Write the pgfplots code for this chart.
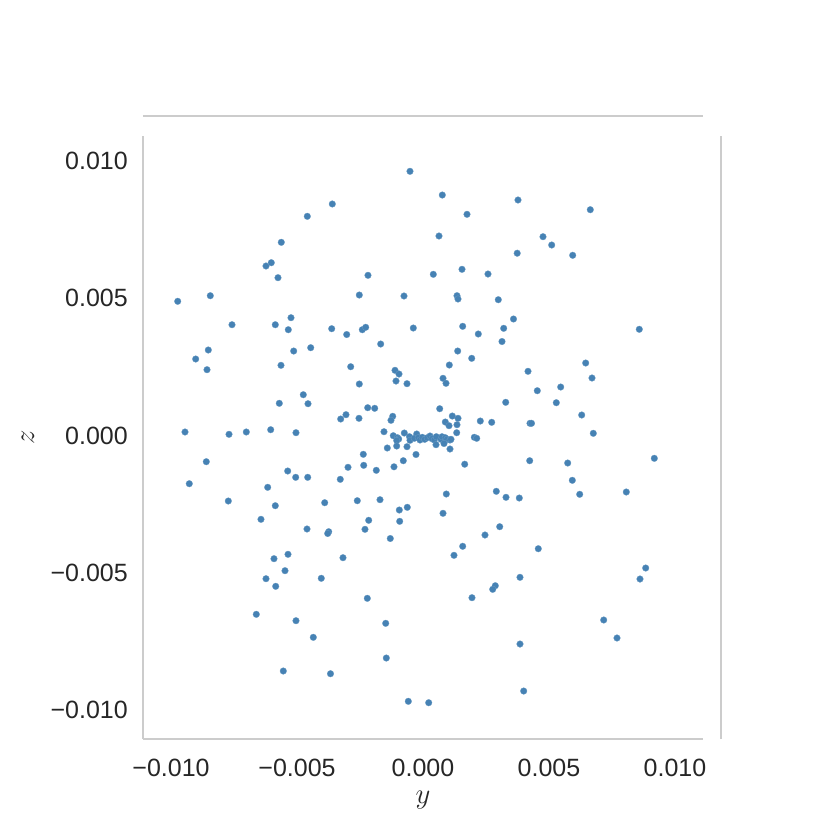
\documentclass[border=0pt]{standalone}
\usepackage{pgfplots}
\pgfplotsset{compat=1.18}
\usepackage{fontspec}
\setmainfont{Liberation Sans}
\definecolor{steel}{HTML}{4682B4}
\definecolor{spine}{HTML}{CCCCCC}
\definecolor{txt}{HTML}{262626}
\begin{document}
\begin{tikzpicture}
\path[use as bounding box] (-102.96pt,-65.52pt) rectangle (494.64pt,532.08pt);
\begin{axis}[
  at={(0pt,0pt)}, anchor=south west,
  scale only axis, width=403.2pt, height=434.16pt,
  xmin=-0.011111, xmax=0.011111, ymin=-0.011056, ymax=0.010911,
  axis x line*=bottom, axis y line*=left,
  axis line style={-, draw=spine, line width=1.875pt},
  major tick length=0pt,
  scaled ticks=false,
  xtick={-0.01,-0.005,0,0.005,0.01},
  ytick={-0.01,-0.005,0,0.005,0.01},
  xticklabels={−0.010,−0.005,0.000,0.005,0.010},
  yticklabels={−0.010,−0.005,0.000,0.005,0.010},
  tick label style={font=\fontsize{18}{20}\selectfont, text=txt},
  xticklabel style={anchor=north, inner sep=0pt, yshift=-14.5pt},
  yticklabel style={anchor=east, inner sep=0pt, xshift=-10.8pt},
  xlabel={$y$}, ylabel={$z$},
  label style={font=\fontsize{20}{22}\selectfont, text=txt},
  xlabel style={at={(axis description cs:0.5,0)}, anchor=center, inner sep=0pt, yshift=-44pt},
  ylabel style={at={(axis description cs:-0.2054,0.5)}, anchor=center, inner sep=0pt, rotate=0},
  clip=false,
]
\addplot[only marks, mark=*, mark size=2.4pt, mark options={fill=steel, draw=steel!80!white, line width=0.2pt}] coordinates {
(-0.516e-3,9.625e-3) (0.766e-3,8.761e-3) (3.770e-3,8.579e-3) (-3.599e-3,8.434e-3)
(6.639e-3,8.226e-3) (1.746e-3,8.058e-3) (-4.591e-3,7.985e-3) (0.635e-3,7.268e-3)
(4.762e-3,7.242e-3) (5.107e-3,6.940e-3) (-5.623e-3,7.038e-3) (5.940e-3,6.565e-3)
(3.738e-3,6.641e-3) (-6.020e-3,6.295e-3) (-6.230e-3,6.175e-3) (-5.754e-3,5.749e-3)
(-2.183e-3,5.836e-3) (0.409e-3,5.872e-3) (1.548e-3,6.055e-3) (2.579e-3,5.883e-3)
(-9.734e-3,4.889e-3) (-8.440e-3,5.093e-3) (-2.528e-3,5.118e-3) (-0.754e-3,5.082e-3)
(1.349e-3,5.093e-3) (1.389e-3,4.973e-3) (2.988e-3,4.947e-3) (-7.579e-3,4.036e-3)
(-5.861e-3,4.036e-3) (-5.238e-3,4.291e-3) (-5.345e-3,3.854e-3) (-3.623e-3,3.891e-3)
(-3.028e-3,3.679e-3) (-2.409e-3,3.854e-3) (-2.274e-3,3.942e-3) (-0.385e-3,3.916e-3)
(1.575e-3,3.978e-3) (2.194e-3,3.698e-3) (3.202e-3,3.905e-3) (3.591e-3,4.244e-3)
(3.135e-3,3.424e-3) (8.583e-3,3.869e-3)
(-8.520e-3,3.115e-3) (-9.020e-3,2.787e-3) (-8.571e-3,2.397e-3) (-5.131e-3,3.078e-3)
(-4.456e-3,3.199e-3) (-5.635e-3,2.557e-3) (-4.750e-3,1.486e-3) (-5.702e-3,1.173e-3)
(-4.563e-3,1.158e-3) (-9.444e-3,0.128e-3) (-7.698e-3,0.044e-3) (-7.012e-3,0.128e-3)
(-6.044e-3,0.211e-3) (-5.040e-3,0.102e-3) (-8.599e-3,-0.954e-3) (-9.274e-3,-1.756e-3)
(-5.369e-3,-1.293e-3) (-5.052e-3,-1.523e-3) (-4.575e-3,-1.523e-3) (-6.163e-3,-1.887e-3)
(-7.726e-3,-2.386e-3) (-5.861e-3,-2.557e-3) (-3.901e-3,-2.448e-3) (-6.429e-3,-3.053e-3)
(-4.603e-3,-3.406e-3) (-3.742e-3,-3.505e-3) (-3.782e-3,-3.570e-3)
(-1.679e-3,3.333e-3) (1.377e-3,3.078e-3) (1.933e-3,2.812e-3) (-2.869e-3,2.506e-3)
(1.044e-3,2.568e-3) (-1.111e-3,2.375e-3) (-0.952e-3,2.240e-3) (-1.071e-3,1.985e-3)
(-0.635e-3,1.887e-3) (-2.528e-3,1.876e-3) (0.794e-3,2.084e-3) (0.913e-3,1.902e-3)
(3.282e-3,1.209e-3) (-2.194e-3,1.013e-3) (-1.917e-3,0.991e-3) (0.663e-3,0.976e-3)
(-3.056e-3,0.758e-3) (-3.266e-3,0.601e-3) (-2.540e-3,0.627e-3) (-1.202e-3,0.699e-3)
(-1.270e-3,0.554e-3) (1.163e-3,0.710e-3) (1.389e-3,0.627e-3) (2.274e-3,0.528e-3)
(2.726e-3,0.481e-3) (0.885e-3,0.492e-3) (1.032e-3,0.357e-3) (1.349e-3,0.393e-3)
(-1.548e-3,0.138e-3) (1.337e-3,0.102e-3) (2.036e-3,-0.066e-3) (2.131e-3,-0.102e-3)
(-1.179e-3,-0.007e-3) (-1.012e-3,-0.080e-3) (-0.964e-3,-0.128e-3) (-1.044e-3,-0.182e-3)
(-0.742e-3,0.091e-3) (-0.536e-3,-0.044e-3) (-0.516e-3,-0.175e-3) (-0.250e-3,0.055e-3)
(-0.345e-3,-0.102e-3) (-0.187e-3,-0.080e-3) (-0.119e-3,-0.164e-3) (-0.028e-3,-0.066e-3)
(0.067e-3,-0.138e-3) (0.171e-3,-0.080e-3) (0.278e-3,-0.018e-3) (0.357e-3,-0.117e-3)
(0.448e-3,-0.164e-3) (0.528e-3,-0.044e-3) (0.714e-3,-0.138e-3) (0.754e-3,-0.044e-3)
(0.885e-3,-0.080e-3) (0.952e-3,-0.138e-3) (1.071e-3,-0.164e-3) (1.111e-3,-0.138e-3)
(0.516e-3,-0.335e-3) (0.833e-3,-0.291e-3) (1.071e-3,-0.492e-3) (-1.417e-3,-0.455e-3)
(-1.044e-3,-0.383e-3) (-0.635e-3,-0.408e-3) (-0.278e-3,-0.692e-3) (-2.369e-3,-0.685e-3)
(-2.976e-3,-1.158e-3) (-2.353e-3,-1.086e-3) (-1.853e-3,-1.268e-3) (-1.151e-3,-1.140e-3)
(-0.782e-3,-0.918e-3) (1.655e-3,-1.046e-3) (-3.282e-3,-1.596e-3) (-2.607e-3,-2.375e-3)
(-1.706e-3,-2.339e-3) (0.925e-3,-2.131e-3) (2.909e-3,-2.033e-3) (3.294e-3,-2.251e-3)
(3.821e-3,-2.277e-3) (-0.940e-3,-2.714e-3) (-0.623e-3,-2.616e-3) (-2.155e-3,-3.089e-3)
(-2.302e-3,-3.417e-3) (-0.925e-3,-3.126e-3) (0.794e-3,-2.834e-3) (3.044e-3,-3.322e-3)
(2.460e-3,-3.625e-3) (-1.298e-3,-3.752e-3)
(6.456e-3,2.641e-3) (4.167e-3,2.339e-3) (6.706e-3,2.095e-3) (5.464e-3,1.767e-3)
(4.536e-3,1.632e-3) (5.290e-3,1.195e-3) (6.298e-3,0.747e-3) (4.246e-3,0.444e-3)
(4.306e-3,0.444e-3) (6.758e-3,0.080e-3) (4.234e-3,-0.918e-3) (5.742e-3,-1.002e-3)
(9.179e-3,-0.831e-3) (5.925e-3,-1.632e-3) (6.218e-3,-2.142e-3) (8.067e-3,-2.058e-3)
(-5.357e-3,-4.328e-3) (-5.913e-3,-4.488e-3) (-5.476e-3,-4.925e-3) (-6.230e-3,-5.217e-3)
(-4.036e-3,-5.202e-3) (-5.845e-3,-5.494e-3) (-6.615e-3,-6.514e-3) (-5.040e-3,-6.747e-3)
(-4.353e-3,-7.352e-3) (-5.544e-3,-8.579e-3) (-3.671e-3,-8.678e-3)
(1.575e-3,-4.036e-3) (1.230e-3,-4.364e-3) (-3.175e-3,-4.452e-3) (-2.210e-3,-5.931e-3)
(-1.480e-3,-6.842e-3) (1.944e-3,-5.909e-3) (2.869e-3,-5.472e-3) (2.766e-3,-5.603e-3)
(3.849e-3,-5.166e-3) (3.849e-3,-7.596e-3) (-1.456e-3,-8.106e-3) (-0.583e-3,-9.683e-3)
(0.226e-3,-9.734e-3)
(4.575e-3,-4.124e-3) (8.837e-3,-4.827e-3) (8.611e-3,-5.228e-3) (7.171e-3,-6.721e-3)
(7.698e-3,-7.377e-3) (3.996e-3,-9.308e-3)
};
\end{axis}
\draw[spine, line width=1.875pt] (0pt,448.56pt) -- (403.2pt,448.56pt);
\draw[spine, line width=1.875pt] (416.16pt,0pt) -- (416.16pt,434.16pt);
\end{tikzpicture}
\end{document}
